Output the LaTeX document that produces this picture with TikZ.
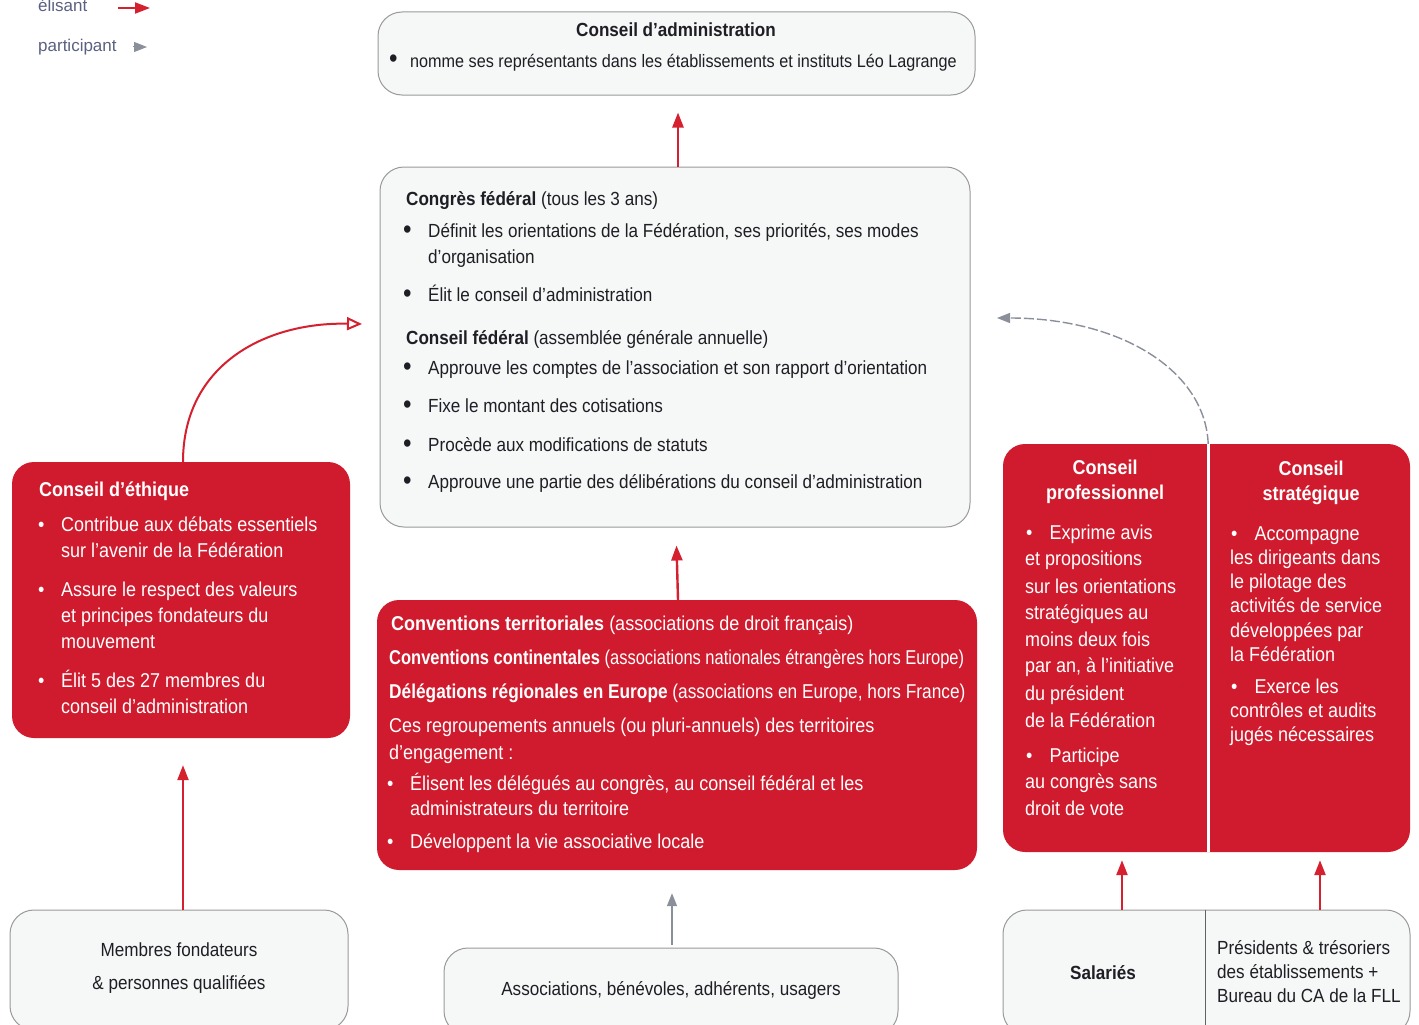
\documentclass[tikz,border=0pt]{standalone}
\usepackage{fontspec}
\setmainfont{Liberation Sans}[FakeStretch=0.9]
\newfontfamily\legfont{Liberation Sans}
\usetikzlibrary{arrows.meta}
\definecolor{boxred}{HTML}{CF1B2D}
\definecolor{arrred}{HTML}{D4202F}
\definecolor{lightfill}{HTML}{F6F7F7}
\definecolor{lightline}{HTML}{9A9A9A}
\definecolor{darktext}{HTML}{1E1E24}
\definecolor{greyarr}{HTML}{8A8F99}
\definecolor{legtext}{HTML}{5A6080}
\newcommand\fs{\fontsize{19}{22}\selectfont}
\newcommand\rfs{\fontsize{20}{23}\selectfont}
\newcommand\bigbul{{\fontsize{27}{20}\selectfont\textbullet}}
\newcommand\tx[4]{\node[txt] (#1) at (#2,#3) {#4};}
\newcommand\cx[4]{\node[ctxt] (#1) at (#2,#3) {#4};}
\tikzset{
  lightbox/.style={draw=lightline, line width=1pt, fill=lightfill, rounded corners=24pt, inner sep=0pt},
  redbox/.style={fill=boxred, draw=none, rounded corners=22pt, inner sep=0pt},
  plainbox/.style={draw=none, inner sep=0pt},
  txt/.style={anchor=base west, inner sep=0pt, font=\fs},
  ctxt/.style={anchor=base, inner sep=0pt, font=\fs},
  redarr/.style={draw=arrred, line width=2.4pt, -{Triangle[length=15pt,width=11pt]}},
  openarr/.style={draw=arrred, line width=2pt, -{Triangle[open,length=15pt,width=13pt,line width=2pt]}},
  greyarrow/.style={draw=greyarr, line width=1.6pt, -{Triangle[length=13pt,width=10pt]}},
  greydash/.style={draw=greyarr, line width=1.4pt, dash pattern=on 10pt off 3pt, -{Triangle[length=13pt,width=10pt]}},
}
\begin{document}
\begin{tikzpicture}[x=1pt,y=-1pt]
\useasboundingbox (0,0) rectangle (1419,1025);

% ---------- boxes ----------
\node[lightbox, minimum width=597pt, minimum height=83pt] (ca) at (676.5,53.5) {};
\node[lightbox, minimum width=590pt, minimum height=360pt] (congres) at (675,347) {};
\node[redbox, minimum width=338pt, minimum height=276pt] (ethique) at (181,600) {};
\node[redbox, minimum width=600pt, minimum height=270pt] (conv) at (677,735) {};
\node[redbox, minimum width=407pt, minimum height=408pt] (rightred) at (1206.5,648) {};
\node[plainbox, minimum width=205pt, minimum height=408pt] (cpro) at (1105.5,648) {};
\node[plainbox, minimum width=202pt, minimum height=408pt] (cstr) at (1309,648) {};
\draw[white, line width=3pt] (cpro.north east) -- (cpro.south east);
\node[lightbox, minimum width=338pt, minimum height=120pt] (membres) at (179,970) {};
\node[lightbox, minimum width=454pt, minimum height=87pt] (assoc) at (671,991.5) {};
\node[lightbox, minimum width=407pt, minimum height=125pt] (botright) at (1206.5,972.5) {};
\node[plainbox, minimum width=202pt, minimum height=125pt] (sal) at (1104,972.5) {};
\node[plainbox, minimum width=205pt, minimum height=125pt] (pres) at (1307.5,972.5) {};
\draw[darktext!70, line width=1pt] (sal.north east) -- (sal.south east);

% ---------- legend ----------
\node[anchor=base west, inner sep=0pt, font=\legfont\fontsize{17}{20}\selectfont, text=legtext] (legA) at (38,12) {élisant};
\node[anchor=base west, inner sep=0pt, font=\legfont\fontsize{17}{20}\selectfont, text=legtext] (legB) at (38,52) {participant};
\coordinate (legAs) at (118,8);
\coordinate (legAe) at (150,8);
\coordinate (legBs) at (133,47);
\coordinate (legBe) at (147,47);
\draw[redarr, line width=2pt] (legAs) -- (legAe);
\draw[greyarrow, line width=1pt] (legBs) -- (legBe);

% ---------- light box texts ----------
\begin{scope}[text=darktext]
\cx{caT}{676}{37}{\bfseries Conseil d'administration}
\tx{caBb}{389}{68}{\bigbul}
\node[txt, font=\fontsize{18}{22}\selectfont] (caB) at (410,67) {nomme ses représentants dans les établissements et instituts Léo Lagrange};

\tx{cgT}{406}{205}{\bfseries Congrès fédéral \mdseries(tous les 3 ans)}
\tx{cg1b}{403}{238}{\bigbul}
\tx{cg1}{428}{237}{Définit les orientations de la Fédération, ses priorités, ses modes}
\tx{cg1c}{428}{263}{d'organisation}
\tx{cg2b}{403}{302}{\bigbul}
\tx{cg2}{428}{301}{Élit le conseil d'administration}
\tx{cfT}{406}{344}{\bfseries Conseil fédéral \mdseries(assemblée générale annuelle)}
\tx{cf1b}{403}{375}{\bigbul}
\tx{cf1}{428}{374}{Approuve les comptes de l'association et son rapport d'orientation}
\tx{cf2b}{403}{413}{\bigbul}
\tx{cf2}{428}{412}{Fixe le montant des cotisations}
\tx{cf3b}{403}{452}{\bigbul}
\tx{cf3}{428}{451}{Procède aux modifications de statuts}
\tx{cf4b}{403}{489}{\bigbul}
\tx{cf4}{428}{488}{Approuve une partie des délibérations du conseil d'administration}

\cx{mb1}{179}{956}{Membres fondateurs}
\cx{mb2}{179}{989}{\& personnes qualifiées}
\cx{as1}{671}{995}{Associations, bénévoles, adhérents, usagers}
\cx{sa1}{1103}{979}{\bfseries Salariés}
\tx{pr1}{1217}{954}{Présidents \& trésoriers}
\tx{pr2}{1217}{978}{des établissements +}
\tx{pr3}{1217}{1002}{Bureau du CA de la FLL}
\end{scope}

% ---------- red box texts ----------
\begin{scope}[text=white, txt/.append style={font=\rfs}, ctxt/.append style={font=\rfs}]
\tx{etT}{39}{496}{\bfseries Conseil d'éthique}
\tx{et1b}{38}{531}{\textbullet}
\tx{et1}{61}{531}{Contribue aux débats essentiels}
\tx{et1c}{61}{557}{sur l'avenir de la Fédération}
\tx{et2b}{38}{596}{\textbullet}
\tx{et2}{61}{596}{Assure le respect des valeurs}
\tx{et2c}{61}{622}{et principes fondateurs du}
\tx{et2d}{61}{648}{mouvement}
\tx{et3b}{38}{687}{\textbullet}
\tx{et3}{61}{687}{Élit 5 des 27 membres du}
\tx{et3c}{61}{713}{conseil d'administration}

\tx{cv1}{391}{630}{\bfseries Conventions territoriales \mdseries(associations de droit français)}
\tx{cv2}{389}{664}{\addfontfeature{FakeStretch=0.825}\bfseries Conventions continentales \mdseries(associations nationales étrangères hors Europe)}
\tx{cv3}{389}{698}{\addfontfeature{FakeStretch=0.864}\bfseries Délégations régionales en Europe \mdseries(associations en Europe, hors France)}
\tx{cv4}{389}{732}{Ces regroupements annuels (ou pluri-annuels) des territoires}
\tx{cv5}{389}{759}{d'engagement :}
\tx{cv6b}{387}{790}{\textbullet}
\tx{cv6}{410}{790}{Élisent les délégués au congrès, au conseil fédéral et les}
\tx{cv6c}{410}{815}{administrateurs du territoire}
\tx{cv7b}{387}{848}{\textbullet}
\tx{cv7}{410}{848}{Développent la vie associative locale}

\cx{cpT1}{1105}{474}{\bfseries Conseil}
\cx{cpT2}{1105}{499}{\bfseries professionnel}
\tx{cp1}{1026}{539}{\textbullet\hspace{17pt}Exprime avis}
\tx{cp2}{1025}{565}{et propositions}
\tx{cp3}{1025}{593}{sur les orientations}
\tx{cp4}{1025}{619}{stratégiques au}
\tx{cp5}{1025}{646}{moins deux fois}
\tx{cp6}{1025}{672}{par an, à l'initiative}
\tx{cp7}{1025}{700}{du président}
\tx{cp8}{1025}{727}{de la Fédération}
\tx{cp9}{1026}{762}{\textbullet\hspace{17pt}Participe}
\tx{cp10}{1025}{788}{au congrès sans}
\tx{cp11}{1025}{815}{droit de vote}

\cx{csT1}{1311}{475}{\bfseries Conseil}
\cx{csT2}{1311}{500}{\bfseries stratégique}
\tx{cs1}{1231}{540}{\textbullet\hspace{17pt}Accompagne}
\tx{cs2}{1230}{564}{les dirigeants dans}
\tx{cs3}{1230}{588}{le pilotage des}
\tx{cs4}{1230}{612}{activités de service}
\tx{cs5}{1230}{637}{développées par}
\tx{cs6}{1230}{661}{la Fédération}
\tx{cs7}{1231}{693}{\textbullet\hspace{17pt}Exerce les}
\tx{cs8}{1230}{717}{contrôles et audits}
\tx{cs9}{1230}{741}{jugés nécessaires}
\end{scope}

% ---------- connectors ----------
\draw[redarr, shorten >=17pt] ([xshift=3pt]congres.north) -- ([xshift=1.5pt]ca.south);
\draw[redarr, shorten >=18pt] ([xshift=1pt]conv.north) -- ([xshift=1pt]congres.south);
\draw[greyarrow, shorten <=3pt, shorten >=23pt] ([xshift=1pt]assoc.north) -- ([xshift=-5pt]conv.south);
\draw[redarr, shorten >=27pt] ([xshift=4pt]membres.north) -- ([xshift=2pt]ethique.south);
\draw[redarr, shorten >=8pt] ([xshift=18pt]sal.north) -- ([xshift=16.5pt]cpro.south);
\draw[redarr, shorten >=8pt] ([xshift=12.5pt]pres.north) -- ([xshift=11pt]cstr.south);

\coordinate (cgL) at (362,324);
\draw[openarr] ([xshift=2pt]ethique.north) .. controls (183,365) and (265,322) .. (cgL);
\coordinate (cgR) at (997,318);
\draw[greydash] (cpro.north east) .. controls (1205,370) and (1120,318) .. (cgR);
\end{tikzpicture}
\end{document}
